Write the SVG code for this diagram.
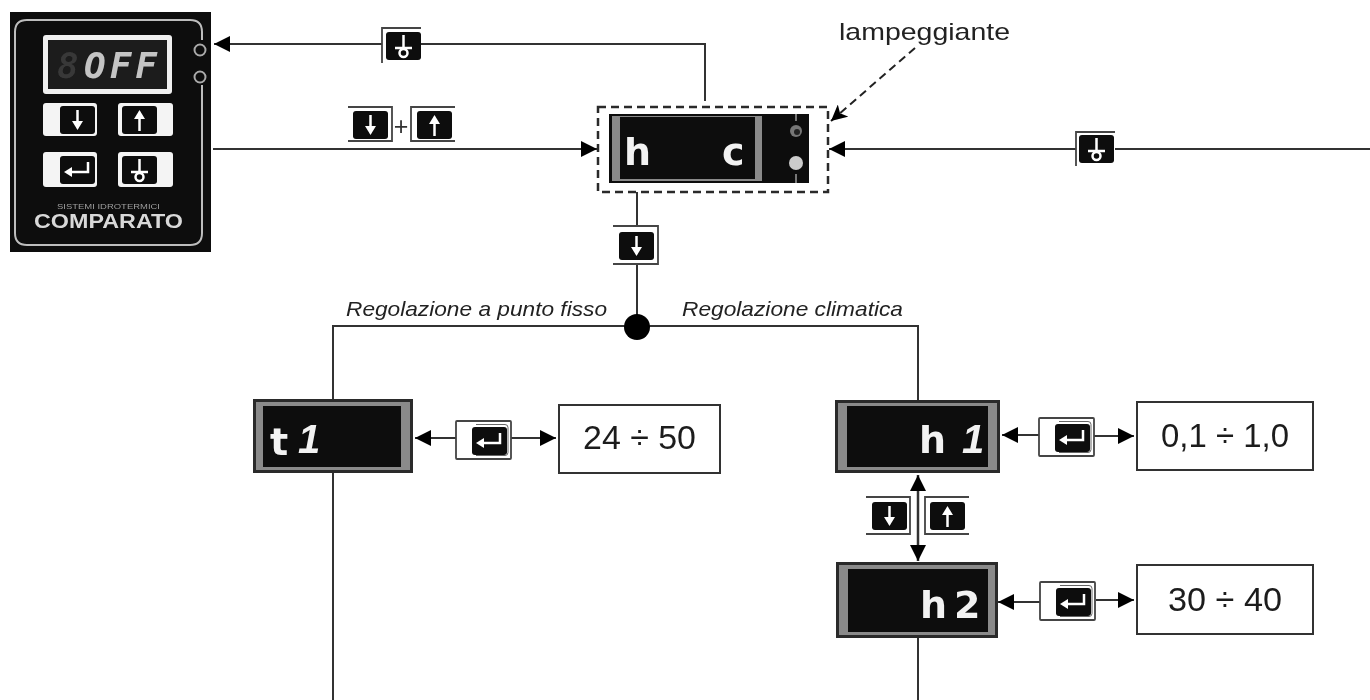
<svg xmlns="http://www.w3.org/2000/svg" xmlns:xlink="http://www.w3.org/1999/xlink" width="1370" height="700" viewBox="0 0 1370 700">
<style>
text{font-family:"Liberation Sans",Arial,sans-serif}
.ln{fill:none;stroke:#333;stroke-width:2}
.val{font-size:33px;fill:#1c1c1c;text-anchor:start}
.lab{font-size:21px;font-style:italic;fill:#222}
.seg{font-family:"DejaVu Sans",sans-serif;font-weight:bold;fill:#f2f2f2;font-size:38px}
.one{font-family:"Liberation Sans",sans-serif;font-weight:bold;font-style:italic;fill:#f2f2f2;font-size:40px}
.box{fill:#fff;stroke:#333;stroke-width:2}
.frame{fill:#2a2a2a}
.bez{fill:#8a8a8a}
.scr{fill:#0b0b0b}
.gl{fill:none;stroke:#fff;stroke-width:2.500}
.glf{fill:#fff}
.br{fill:none;stroke:#444;stroke-width:1.800}
</style>
<defs>
<filter id="soft" x="0" y="0" width="1370" height="700" filterUnits="userSpaceOnUse"><feGaussianBlur stdDeviation="0.6"/></filter>
<marker id="ah" viewBox="0 0 16 16" refX="16" refY="8" markerWidth="16" markerHeight="16" markerUnits="userSpaceOnUse" orient="auto-start-reverse"><path d="M0 0L16 8L0 16Z" fill="#000"/></marker>
<marker id="ahs" viewBox="0 0 16 16" refX="16" refY="8" markerWidth="16" markerHeight="16" markerUnits="userSpaceOnUse" orient="auto"><path d="M0 0L16 8L0 16L4 8Z" fill="#000"/></marker>
<g id="dn"><rect x="0" y="0" width="35" height="28" rx="3" fill="#0b0b0b"/><path d="M17.500 4V17" class="gl"/><path d="M12 15H23L17.500 24Z" class="glf"/></g>
<g id="up"><rect x="0" y="0" width="35" height="28" rx="3" fill="#0b0b0b"/><path d="M17.500 12V25" class="gl"/><path d="M12 13H23L17.500 4Z" class="glf"/></g>
<g id="ent"><rect x="0" y="0" width="35" height="28" rx="3" fill="#0b0b0b"/><path d="M28 6V16H10" class="gl"/><path d="M12 11V21L4 16Z" class="glf"/></g>
<g id="tst"><rect x="0" y="0" width="35" height="28" rx="3" fill="#0b0b0b"/><path d="M17.500 3V15M9 16H26" class="gl"/><circle cx="17.500" cy="21" r="4" class="gl"/></g>
<g id="k-enter"><rect x="0" y="0" width="55" height="38" fill="#fff" stroke="#444" stroke-width="1.800" rx="1"/><use xlink:href="#ent" href="#ent" x="16" y="6"/><path d="M20 3.500H49Q52 3.500 52 6.500V31.500Q52 34.500 49 34.500H20" fill="none" stroke="#666" stroke-width="1"/></g>
</defs>

<g filter="url(#soft)">
<rect width="1370" height="700" fill="#fff"/>
<g id="connectors">
<path class="ln" d="M705 101V44H214" marker-end="url(#ah)"/>
<path class="ln" d="M213 149H597" marker-end="url(#ah)"/>
<path class="ln" d="M1370 149H829" marker-end="url(#ah)"/>
<path class="ln" d="M637 192V327"/>
<path class="ln" d="M333 400V326H918V400"/>
<path class="ln" d="M333 473V700"/>
<path class="ln" d="M918 638V700"/>
<path class="ln" style="stroke-width:2.500" d="M918 561V475" marker-start="url(#ah)" marker-end="url(#ah)"/>
<path class="ln" d="M456 438H415" marker-end="url(#ah)"/>
<path class="ln" d="M511 438H556" marker-end="url(#ah)"/>
<path class="ln" d="M1039 435H1002" marker-end="url(#ah)"/>
<path class="ln" d="M1094 436H1134" marker-end="url(#ah)"/>
<path class="ln" d="M1040 602H998" marker-end="url(#ah)"/>
<path class="ln" d="M1096 600H1134" marker-end="url(#ah)"/>
<circle cx="637" cy="327" r="13" fill="#000"/>
</g>

<g id="node-panel">
<rect x="10" y="12" width="201" height="240" fill="#080808"/>
<path d="M202 40V32Q202 20 190 20H27Q15 20 15 32V233Q15 245 27 245H190Q202 245 202 233V85" fill="none" stroke="#bdbdbd" stroke-width="2"/>
<circle cx="200" cy="50" r="5.500" fill="none" stroke="#aaa" stroke-width="2"/>
<circle cx="200" cy="77" r="5.500" fill="none" stroke="#aaa" stroke-width="2"/>
<rect x="43" y="35" width="129" height="59" rx="3" fill="#f0f0f0"/>
<rect x="48" y="40" width="119" height="49" fill="#1c1c1c"/>
<text x="57" y="78" font-size="36" font-weight="bold" style="font-family:'DejaVu Sans Mono',monospace;font-style:italic" fill="#383838">8</text>
<text x="84" y="78" font-size="36" font-weight="bold" style="font-family:'DejaVu Sans Mono',monospace;font-style:italic" fill="#c4c4c4" letter-spacing="4">OFF</text>
<rect x="43" y="103" width="54" height="33" rx="3" fill="#f4f4f4"/><use xlink:href="#dn" href="#dn" x="60" y="106"/>
<rect x="118" y="103" width="55" height="33" rx="3" fill="#f4f4f4"/><use xlink:href="#up" href="#up" x="122" y="106"/>
<rect x="43" y="152" width="54" height="35" rx="3" fill="#f4f4f4"/><use xlink:href="#ent" href="#ent" x="60" y="156"/>
<rect x="118" y="152" width="55" height="35" rx="3" fill="#f4f4f4"/><use xlink:href="#tst" href="#tst" x="122" y="156"/>
<text x="57" y="209" font-size="7.500" fill="#a0a0a0" textLength="103" lengthAdjust="spacingAndGlyphs">SISTEMI IDROTERMICI</text>
<text x="34" y="228" font-size="20" font-weight="bold" fill="#d8d8d8" textLength="149" lengthAdjust="spacingAndGlyphs">COMPARATO</text>
</g>

<g id="key-test-top">
<rect x="382" y="28" width="39" height="35" fill="#fff"/>
<path class="br" d="M382 63V28H421"/>
<use xlink:href="#tst" href="#tst" x="386" y="32"/>
</g>

<g id="key-combo">
<rect x="348" y="107" width="44" height="34" fill="#fff"/>
<path class="br" d="M348 107H392V141H348"/>
<use xlink:href="#dn" href="#dn" x="353" y="111"/>
<text x="401" y="135" font-size="25" fill="#333" text-anchor="middle">+</text>
<path class="br" d="M455 107H411V141H455"/>
<use xlink:href="#up" href="#up" x="417" y="111"/>
</g>

<g id="key-test-right">
<rect x="1076" y="132" width="39" height="34" fill="#fff"/>
<path class="br" d="M1076 166V132H1115"/>
<use xlink:href="#tst" href="#tst" x="1079" y="135"/>
</g>

<g id="node-hc">
<rect x="598" y="107" width="230" height="85" fill="#fff" stroke="#2a2a2a" stroke-width="2.500" stroke-dasharray="8 5"/>
<rect x="609" y="114" width="200" height="69" fill="#111"/>
<rect x="612" y="116" width="150" height="65" fill="#8a8a8a"/>
<rect x="620" y="117" width="135" height="62" fill="#0b0b0b"/>
<text class="seg" x="624" y="165">h</text>
<text class="seg" x="722" y="165">c</text>
<circle cx="796" cy="131" r="6" fill="#777"/><circle cx="797" cy="132" r="3" fill="#222"/>
<circle cx="796" cy="163" r="7" fill="#ccc"/>
<path d="M796 114V121M796 174V183" stroke="#777" stroke-width="2"/>
</g>

<g id="key-down-mid">
<rect x="613" y="226" width="45" height="38" fill="#fff"/>
<path class="br" d="M613 226H658V264H613"/>
<use xlink:href="#dn" href="#dn" x="619" y="232"/>
</g>

<text class="lab" x="346" y="316" textLength="261" lengthAdjust="spacingAndGlyphs">Regolazione a punto fisso</text>
<text class="lab" x="682" y="316" textLength="221" lengthAdjust="spacingAndGlyphs">Regolazione climatica</text>
<text x="839" y="40" font-size="24" fill="#222" textLength="171" lengthAdjust="spacingAndGlyphs">lampeggiante</text>
<path id="arrow-lampeggiante" d="M915 48L831 121" fill="none" stroke="#222" stroke-width="2" stroke-dasharray="8 5" marker-end="url(#ahs)"/>

<g id="node-t1">
<rect x="253" y="399" width="160" height="74" class="frame"/>
<rect x="256" y="402" width="154" height="68" class="bez"/>
<rect x="263" y="406" width="138" height="61" class="scr"/>
<text class="seg" x="270" y="455">t</text>
<text class="one" x="298" y="453">1</text>
</g>
<use id="key-enter-t1" xlink:href="#k-enter" href="#k-enter" x="456" y="421"/>
<g id="node-val-t1"><rect class="box" x="559" y="405" width="161" height="68"/><text class="val" x="583" y="449" textLength="113" lengthAdjust="spacingAndGlyphs">24 ÷ 50</text></g>

<g id="node-h1">
<rect x="835" y="400" width="165" height="73" class="frame"/>
<rect x="838" y="403" width="159" height="67" class="bez"/>
<rect x="847" y="406" width="141" height="61" class="scr"/>
<text class="seg" x="919" y="453">h</text>
<text class="one" x="962" y="453">1</text>
</g>
<use id="key-enter-h1" xlink:href="#k-enter" href="#k-enter" x="1039" y="418"/>
<g id="node-val-h1"><rect class="box" x="1137" y="402" width="176" height="68"/><text class="val" x="1161" y="447" textLength="128" lengthAdjust="spacingAndGlyphs">0,1 ÷ 1,0</text></g>

<g id="key-down-h">
<rect x="866" y="497" width="44" height="37" fill="#fff"/>
<path class="br" d="M866 497H910V534H866"/>
<use xlink:href="#dn" href="#dn" x="872" y="502"/>
</g>
<g id="key-up-h">
<rect x="925" y="497" width="44" height="37" fill="#fff"/>
<path class="br" d="M969 497H925V534H969"/>
<use xlink:href="#up" href="#up" x="930" y="502"/>
</g>

<g id="node-h2">
<rect x="836" y="562" width="162" height="76" class="frame"/>
<rect x="839" y="565" width="156" height="70" class="bez"/>
<rect x="848" y="569" width="140" height="63" class="scr"/>
<text class="seg" x="920" y="618">h</text>
<text class="seg" x="954" y="618" font-size="42">2</text>
</g>
<use id="key-enter-h2" xlink:href="#k-enter" href="#k-enter" x="1040" y="582"/>
<g id="node-val-h2"><rect class="box" x="1137" y="565" width="176" height="69"/><text class="val" x="1168" y="611" textLength="114" lengthAdjust="spacingAndGlyphs">30 ÷ 40</text></g>
</g>
</svg>
